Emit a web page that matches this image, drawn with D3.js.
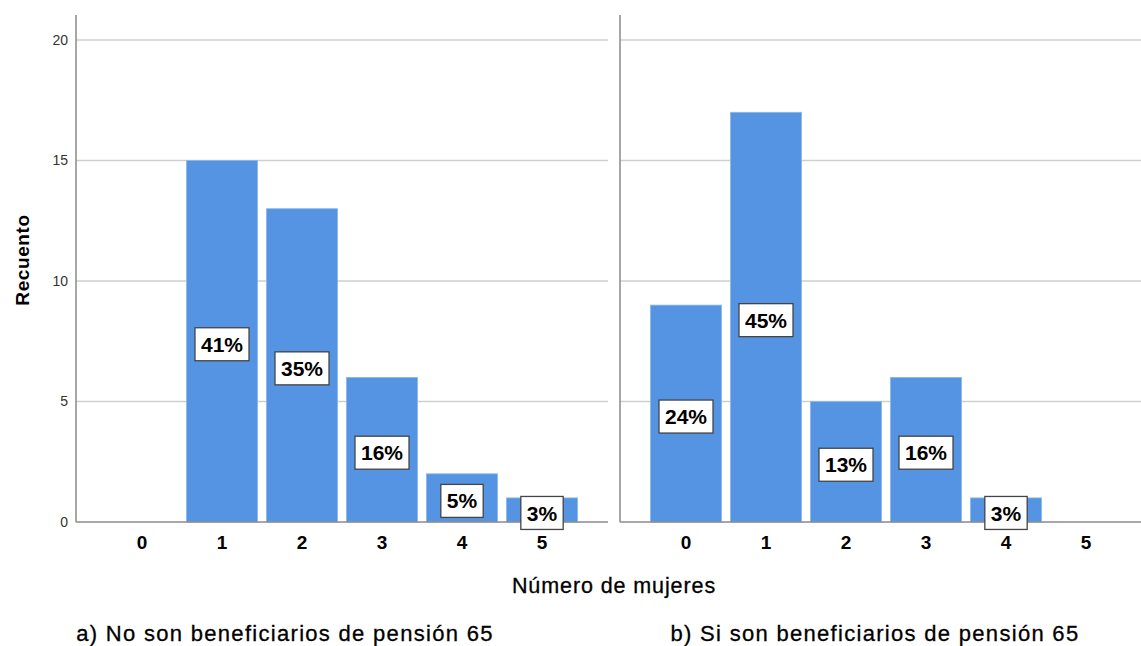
<!DOCTYPE html>
<html>
<head>
<meta charset="utf-8">
<script src="https://cdn.jsdelivr.net/npm/d3@7"></script>
<style>
  body { margin: 0; background: #fff; }
  svg { font-family: "Liberation Sans", Arial, sans-serif; }
</style>
</head>
<body>
<svg width="1141" height="646"></svg>
<script>
// values
var categories = [0, 1, 2, 3, 4, 5];
var countsNo = [0, 15, 13, 6, 2, 1];
var pctNo = [null, 41, 35, 16, 5, 3];
var countsSi = [9, 17, 5, 6, 1, 0];
var pctSi = [24, 45, 13, 16, 3, null];
var yTicks = [0, 5, 10, 15, 20];
var panelTitles = ["a) No son beneficiarios de pensión 65", "b) Si son beneficiarios de pensión 65"];
var xTitle = "Número de mujeres";
var yTitle = "Recuento";

var svg = d3.select("svg");
var barColor = "#5594e3";
var plotTop = 15;

var y = d3.scaleLinear()
    .domain([0, 20])
    .range([522, 40]);

var panels = [
    {x0: 76, x1: 608, counts: countsNo, pct: pctNo},
    {x0: 620, x1: 1141, counts: countsSi, pct: pctSi}
];

panels.forEach(function(p) {
    var x = d3.scaleBand()
        .domain(categories)
        .range([p.x0 + 26, p.x0 + 506])
        .paddingInner(0.11)
        .paddingOuter(0.055);

    var g = svg.append("g");

    // gridlines
    g.selectAll(".grid")
        .data(yTicks.filter(function(d) { return d > 0; }))
        .enter().append("line")
        .attr("x1", p.x0)
        .attr("x2", p.x1)
        .attr("y1", y)
        .attr("y2", y)
        .attr("stroke", "#cfcfcf")
        .attr("stroke-width", 1.5);

    var data = categories.map(function(c, i) { return {c: c, n: p.counts[i], pct: p.pct[i]}; });

    g.selectAll(".bar")
        .data(data.filter(function(d) { return d.n > 0; }))
        .enter().append("rect")
        .attr("x", function(d) { return x(d.c); })
        .attr("width", x.bandwidth())
        .attr("y", function(d) { return y(d.n); })
        .attr("height", function(d) { return y(0) - y(d.n); })
        .attr("fill", barColor)
        .attr("stroke", "#8db8ee")
        .attr("stroke-width", 0.8);

    // baseline and vertical axis line
    g.append("line")
        .attr("x1", p.x0).attr("x2", p.x1)
        .attr("y1", y(0)).attr("y2", y(0))
        .attr("stroke", "#8a8a8a")
        .attr("stroke-width", 1.5);
    g.append("line")
        .attr("x1", p.x0).attr("x2", p.x0)
        .attr("y1", plotTop).attr("y2", y(0))
        .attr("stroke", "#8a8a8a")
        .attr("stroke-width", 1.5);

    // x tick labels
    var xAxis = g.append("g")
        .attr("transform", "translate(0," + y(0) + ")")
        .call(d3.axisBottom(x).tickSize(0).tickPadding(14));
    xAxis.select(".domain").remove();
    xAxis.selectAll("text")
        .attr("font-size", 19)
        .attr("font-weight", "bold")
        .attr("fill", "#000")
        .attr("font-family", "Liberation Sans, Arial, sans-serif");

    // percent labels in boxes
    var lab = g.selectAll(".lab")
        .data(data.filter(function(d) { return d.pct != null; }))
        .enter().append("g")
        .attr("transform", function(d) {
            return "translate(" + (x(d.c) + x.bandwidth() / 2) + "," + ((y(d.n) + y(0)) / 2 + 3) + ")";
        });
    lab.append("text")
        .attr("text-anchor", "middle")
        .attr("dy", "0.36em")
        .attr("font-size", 21)
        .attr("font-weight", "bold")
        .attr("fill", "#000")
        .text(function(d) { return d.pct + "%"; });
    lab.each(function() {
        var t = d3.select(this).select("text");
        var w = t.node().getComputedTextLength();
        d3.select(this).insert("rect", "text")
            .attr("x", -w / 2 - 6)
            .attr("y", -16.5)
            .attr("width", w + 12)
            .attr("height", 33)
            .attr("fill", "#fff")
            .attr("stroke", "#444")
            .attr("stroke-width", 1.3);
    });
});

// y axis ticks (left panel only)
var yAxis = svg.append("g")
    .attr("transform", "translate(76,0)")
    .call(d3.axisLeft(y).tickValues(yTicks).tickSize(0).tickPadding(8));
yAxis.select(".domain").remove();
yAxis.selectAll("text")
    .attr("font-size", 14)
    .attr("fill", "#333")
    .attr("font-family", "Liberation Sans, Arial, sans-serif");

svg.append("text")
    .attr("transform", "translate(29,260) rotate(-90)")
    .attr("text-anchor", "middle")
    .attr("font-size", 19)
    .attr("font-weight", "bold")
    .attr("letter-spacing", 0.6)
    .text(yTitle);

svg.append("text")
    .attr("x", 614)
    .attr("y", 593)
    .attr("text-anchor", "middle")
    .attr("font-size", 21.5)
    .attr("letter-spacing", 0.9)
    .attr("stroke", "#000")
    .attr("stroke-width", 0.3)
    .text(xTitle);

svg.selectAll(".ptitle")
    .data(panelTitles)
    .enter().append("text")
    .attr("x", function(d, i) { return i === 0 ? 285 : 875; })
    .attr("y", 641)
    .attr("text-anchor", "middle")
    .attr("font-size", 22)
    .attr("letter-spacing", 1.3)
    .attr("stroke", "#000")
    .attr("stroke-width", 0.3)
    .text(function(d) { return d; });
</script>
</body>
</html>
